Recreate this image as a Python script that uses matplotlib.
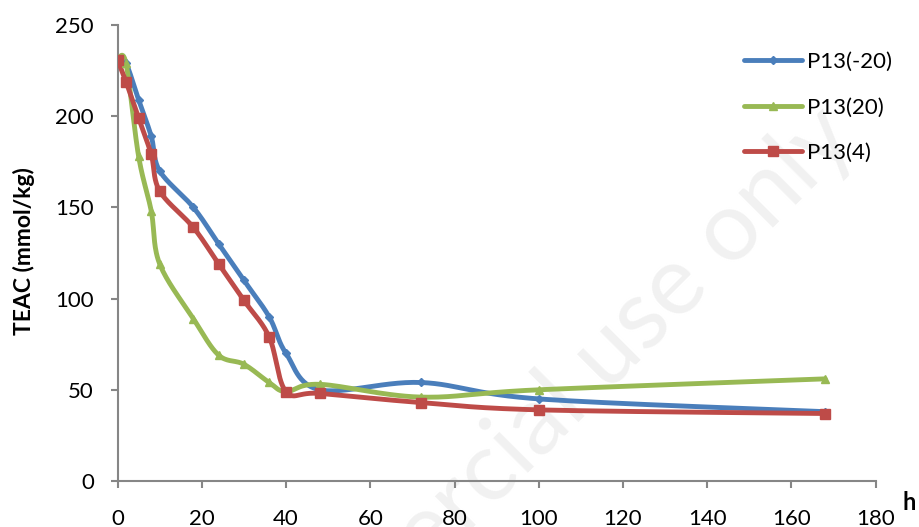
import numpy as np
import matplotlib
matplotlib.use("Agg")
import matplotlib.pyplot as plt

# ---- data ----
hours = [0, 2, 5, 8, 10, 18, 24, 30, 36, 40, 48, 72, 100, 168]
p13_m20 = [231, 229, 209, 189, 170, 150, 130, 110, 90, 70, 50, 54, 45, 38]
p13_20 = [231, 229, 178, 148, 119, 89, 69, 64, 54, 49, 53, 46, 50, 56]
p13_4 = [231, 219, 199, 179, 159, 139, 119, 99, 79, 49, 48, 43, 39, 37]

series_names = ["P13(-20)", "P13(20)", "P13(4)"]
colors = ["#4A7EBB", "#98B954", "#BE4B48"]
markers = ["D", "^", "s"]
msizes = [4, 6, 6.5]


def smooth(x, y, n=30):
    """Excel-like smoothed line: cubic Bezier with Catmull-Rom control points."""
    x = np.asarray(x, float)
    y = np.asarray(y, float)
    px = np.concatenate([[x[0]], x, [x[-1]]])
    py = np.concatenate([[y[0]], y, [y[-1]]])
    t = np.linspace(0, 1, n)
    xs, ys = [], []
    for i in range(1, len(px) - 2):
        p0 = np.array([px[i], py[i]])
        p3 = np.array([px[i + 1], py[i + 1]])
        c1 = p0 + (np.array([px[i + 1], py[i + 1]]) - np.array([px[i - 1], py[i - 1]])) / 6
        c2 = p3 - (np.array([px[i + 2], py[i + 2]]) - np.array([px[i], py[i]])) / 6
        b = ((1 - t) ** 3)[:, None] * p0 + (3 * (1 - t) ** 2 * t)[:, None] * c1 \
            + (3 * (1 - t) * t ** 2)[:, None] * c2 + (t ** 3)[:, None] * p3
        xs.append(b[:, 0])
        ys.append(b[:, 1])
    return np.concatenate(xs), np.concatenate(ys)


plt.rcParams['font.family'] = ['Lato', 'DejaVu Sans']

fig = plt.figure(figsize=(9.19, 5.27), dpi=100)
ax = fig.add_axes([0.1279, 0.0873, 0.8250, 0.8653])
ax.set_facecolor("none")

# faint watermark, behind everything
fig.text(0.935, 0.73, "commercial use only", rotation=45, rotation_mode="anchor",
         ha="right", va="baseline", fontsize=70, color="#f1f1f1", zorder=-1)

for vals, name, c, m, ms in zip([p13_m20, p13_20, p13_4], series_names,
                                 colors, markers, msizes):
    sx, sy = smooth(hours, vals)
    ax.plot(sx, sy, color=c, lw=3.5, solid_capstyle="round", zorder=3)
    ax.plot(hours, vals, linestyle="none", marker=m, ms=ms, color=c,
            markeredgecolor=c, zorder=4)
    # proxy for the legend
    ax.plot([], [], color=c, lw=3.5, marker=m, ms=ms, label=name,
            solid_capstyle="round")

ax.set_xlim(0, 180)
ax.set_ylim(0, 250)
ax.set_xticks(range(0, 181, 20))
ax.set_yticks(range(0, 251, 50))

for s in ["top", "right"]:
    ax.spines[s].set_visible(False)
for s in ["left", "bottom"]:
    ax.spines[s].set_color("#868686")
    ax.spines[s].set_linewidth(1.5)
ax.tick_params(direction="out", length=5, width=1.5, color="#868686",
               labelsize=16)
ax.tick_params(axis="x", pad=15)
ax.tick_params(axis="y", pad=12)

fig.text(24 / 919, 1 - 251 / 527, "TEAC (mmol/kg)", rotation=90, fontsize=16.5,
         fontweight="bold", ha="center", va="center")
fig.text(903 / 919, 1 - 510 / 527, "h", fontsize=17, fontweight="bold",
         ha="left", va="baseline")

leg = ax.legend(loc="upper left", frameon=False, fontsize=16,
                handlelength=2.6, handletextpad=0.25, labelspacing=1.15,
                borderaxespad=0, borderpad=0)
leg.set_bbox_to_anchor((744 / 919, 1 - 52 / 527), transform=fig.transFigure)

fig.savefig("out.png", dpi=100)
